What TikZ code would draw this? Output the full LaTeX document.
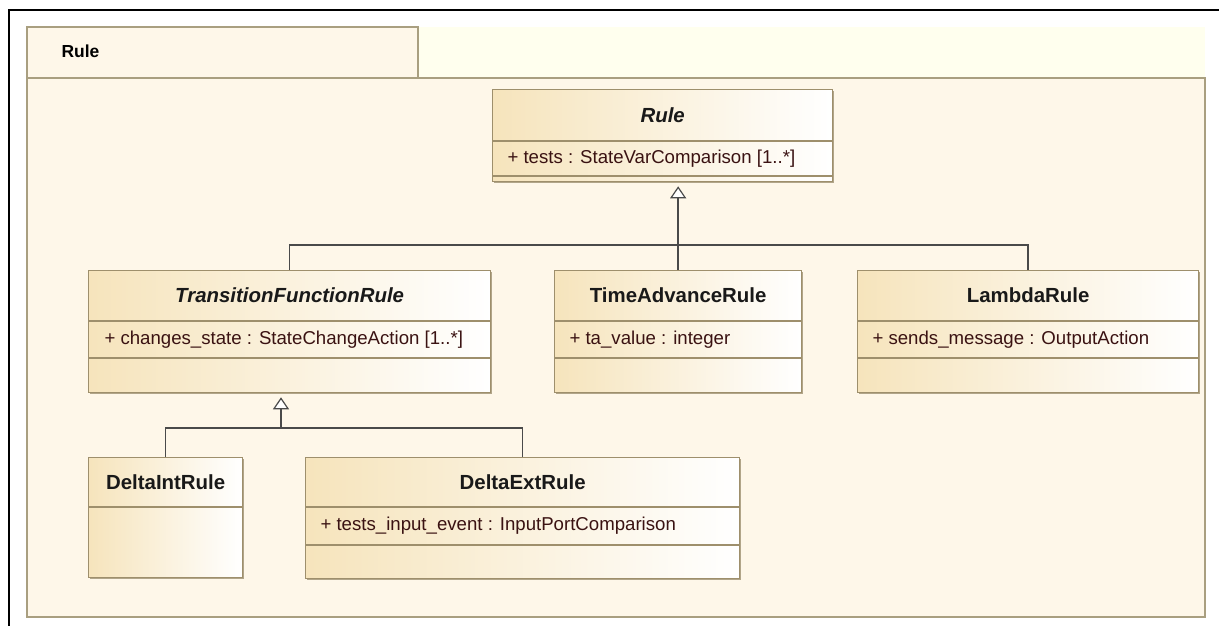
\documentclass[tikz,border=0pt]{standalone}
\usepackage{fontspec}
\setmainfont{Liberation Sans}
\usetikzlibrary{arrows.meta,shadows}
\definecolor{pkgfill}{HTML}{FEF7E9}
\definecolor{pkgtop}{HTML}{FFFFEE}
\definecolor{pkgline}{HTML}{A99F80}
\definecolor{clsleft}{HTML}{F6E4BC}
\definecolor{clsline}{HTML}{9E8F6C}
\definecolor{attrcol}{HTML}{3A1212}
\definecolor{genline}{HTML}{4A4A4A}
\begin{document}
\begin{tikzpicture}[x=1bp, y=-1bp,
  cls/.style={draw=clsline, line width=1.3bp, left color=clsleft, right color=white,
    anchor=north west, inner sep=0pt,
    drop shadow={shadow xshift=1.8bp, shadow yshift=-1.8bp, fill=clsline!80, opacity=1}},
  sep/.style={draw=clsline, line width=1.2bp},
  ttl/.style={font=\fontsize{20.5}{24}\selectfont\bfseries, text=black!90},
  attr/.style={font=\fontsize{18.7}{22}\selectfont, text=attrcol, anchor=west},
  gen/.style={draw=genline, line width=1.4bp},
  >={Triangle[fill=white, width=16bp, length=12bp, line width=1.2bp]}]
\useasboundingbox[fill=white] (0,0) rectangle (1219,626);
\draw[line width=2bp] (9,626) -- (9,10) -- (1219,10);
% package
\fill[pkgtop] (27,27) rectangle (1205,78);
\draw[pkgline, line width=1.8bp, fill=pkgfill] (27,78) rectangle (1205,617);
\draw[pkgline, line width=1.8bp, fill=pkgfill] (27,27) rectangle (418,78);
\node[font=\fontsize{17.5}{21}\selectfont\bfseries, anchor=west] (pkg) at (58,51) {Rule};

% Rule
\node[cls, minimum width=340bp, minimum height=92bp] (rule) at (492,89) {};
\draw[sep] ([yshift=-52bp]rule.north west) -- ([yshift=-52bp]rule.north east);
\draw[sep] ([yshift=-87bp]rule.north west) -- ([yshift=-87bp]rule.north east);
\node[ttl] (rule-t) at ([yshift=-26bp]rule.north) {\itshape Rule};
\node[attr] (rule-a) at ([xshift=12bp, yshift=-69.5bp]rule.north west) {+ tests : StateVarComparison [1..*]};

% second row
\node[cls, minimum width=402bp, minimum height=122bp] (tfr) at (88,270) {};
\node[cls, minimum width=247bp, minimum height=122bp] (tar) at (554,270) {};
\node[cls, minimum width=341bp, minimum height=122bp] (lam) at (857,270) {};
\foreach \c in {tfr,tar,lam}{
  \draw[sep] ([yshift=-51bp]\c.north west) -- ([yshift=-51bp]\c.north east);
  \draw[sep] ([yshift=-88bp]\c.north west) -- ([yshift=-88bp]\c.north east);
}
\node[ttl] (tfr-t) at ([yshift=-25.5bp]tfr.north) {\itshape TransitionFunctionRule};
\node[attr] (tfr-a) at ([xshift=13bp, yshift=-69.5bp]tfr.north west) {+ changes\_state : StateChangeAction [1..*]};
\node[ttl] (tar-t) at ([yshift=-25.5bp]tar.north) {TimeAdvanceRule};
\node[attr] (tar-a) at ([xshift=12bp, yshift=-69.5bp]tar.north west) {+ ta\_value : integer};
\node[ttl] (lam-t) at ([yshift=-25.5bp]lam.north) {LambdaRule};
\node[attr] (lam-a) at ([xshift=12bp, yshift=-69.5bp]lam.north west) {+ sends\_message : OutputAction};

% third row
\node[cls, minimum width=154bp, minimum height=120bp] (dint) at (88,457) {};
\node[cls, minimum width=434bp, minimum height=121bp] (dext) at (305,457) {};
\draw[sep] ([yshift=-50bp]dint.north west) -- ([yshift=-50bp]dint.north east);
\draw[sep] ([yshift=-50bp]dext.north west) -- ([yshift=-50bp]dext.north east);
\draw[sep] ([yshift=-88bp]dext.north west) -- ([yshift=-88bp]dext.north east);
\node[ttl] (dint-t) at ([yshift=-25bp]dint.north) {DeltaIntRule};
\node[ttl] (dext-t) at ([yshift=-25bp]dext.north) {DeltaExtRule};
\node[attr] (dext-a) at ([xshift=12bp, yshift=-69bp]dext.north west) {+ tests\_input\_event : InputPortComparison};

% generalizations
\coordinate (j1) at (tar.north |- 0,245);
\coordinate (j2) at (281,428);
\draw[gen] (tfr.north) |- (j1) -| (lam.north);
\draw[gen, ->, shorten >=4bp] (tar.north) -- (tar.north |- rule.south);
\draw[gen] (dint.north) |- (j2) -| (dext.north);
\draw[gen, ->, shorten >=4bp] (j2) -- (j2 |- tfr.south);
\end{tikzpicture}
\end{document}
